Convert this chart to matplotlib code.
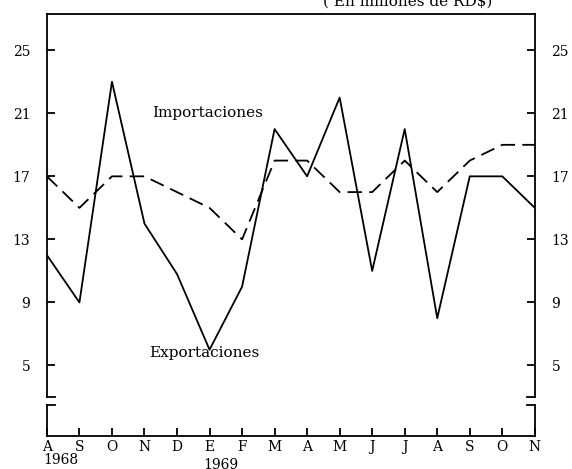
import matplotlib
matplotlib.use("Agg")
from matplotlib import pyplot as plt

# monthly values, Aug 1968 - Nov 1969 (millones de RD$)
months = ["A", "S", "O", "N", "D", "E", "F", "M", "A", "M", "J", "J", "A", "S", "O", "N"]
exportaciones = [12, 9, 23, 14, 10.8, 6, 10, 20, 17, 22, 11, 20, 8, 17, 17, 15]
importaciones = [17, 15, 17, 17, 16, 15, 13, 18, 18, 16, 16, 18, 16, 18, 19, 19]
y_ticks = [5, 9, 13, 17, 21, 25]

FONT = "DejaVu Serif"
plt.rcParams["font.family"] = FONT

x = list(range(len(months)))

fig = plt.figure(figsize=(5.72, 4.69), dpi=100)
ax = fig.add_axes([0.082, 72 / 469, 0.853, 383 / 469])
ax_low = fig.add_axes([0.082, 33 / 469, 0.853, 31 / 469])

ax.plot(x, exportaciones, color="black", lw=1.3)
(imp_line,) = ax.plot(x, importaciones, color="black", lw=1.3)
imp_line.set_dashes((8, 4))

ax.set_xlim(0, len(months) - 1)
ax.set_ylim(3.0, 27.3)
ax.set_yticks(y_ticks)
ax.set_xticks([])
ax.tick_params(axis="y", direction="in", length=6, width=1.3, pad=12,
               labelsize=10, left=True, right=True, labelleft=True, labelright=True)
ax.spines["bottom"].set_visible(False)
for s in ("left", "right", "top"):
    ax.spines[s].set_linewidth(1.3)

# bracket hooks where the axis is broken
hook = 0.016
for x0, x1 in ((0, hook), (1, 1 - hook)):
    ax.plot([x0, x1], [0, 0], color="black", lw=1.3, transform=ax.transAxes, clip_on=False)
    ax_low.plot([x0, x1], [1, 1], color="black", lw=1.3, transform=ax_low.transAxes, clip_on=False)

ax_low.set_xlim(0, len(months) - 1)
ax_low.set_ylim(0, 1)
ax_low.set_yticks([])
ax_low.set_xticks(x)
ax_low.set_xticklabels(months)
ax_low.tick_params(axis="x", direction="in", length=6, width=1.3, pad=3, labelsize=10)
ax_low.spines["top"].set_visible(False)
for s in ("left", "right", "bottom"):
    ax_low.spines[s].set_linewidth(1.3)

fig.text(61 / 572, 1 - 460 / 469, "1968", fontsize=10, ha="center", va="center")
fig.text(221 / 572, 1 - 465 / 469, "1969", fontsize=10, ha="center", va="center")

ax.text(4.94, 21.0, "Importaciones", fontsize=11, ha="center", va="center")
ax.text(4.85, 5.8, "Exportaciones", fontsize=11, ha="center", va="center")

fig.text(408 / 572, 1 - 6 / 469, "( En millones de RD$)", fontsize=11, ha="center", va="baseline")

fig.savefig("out.png", dpi=100, facecolor="white")
